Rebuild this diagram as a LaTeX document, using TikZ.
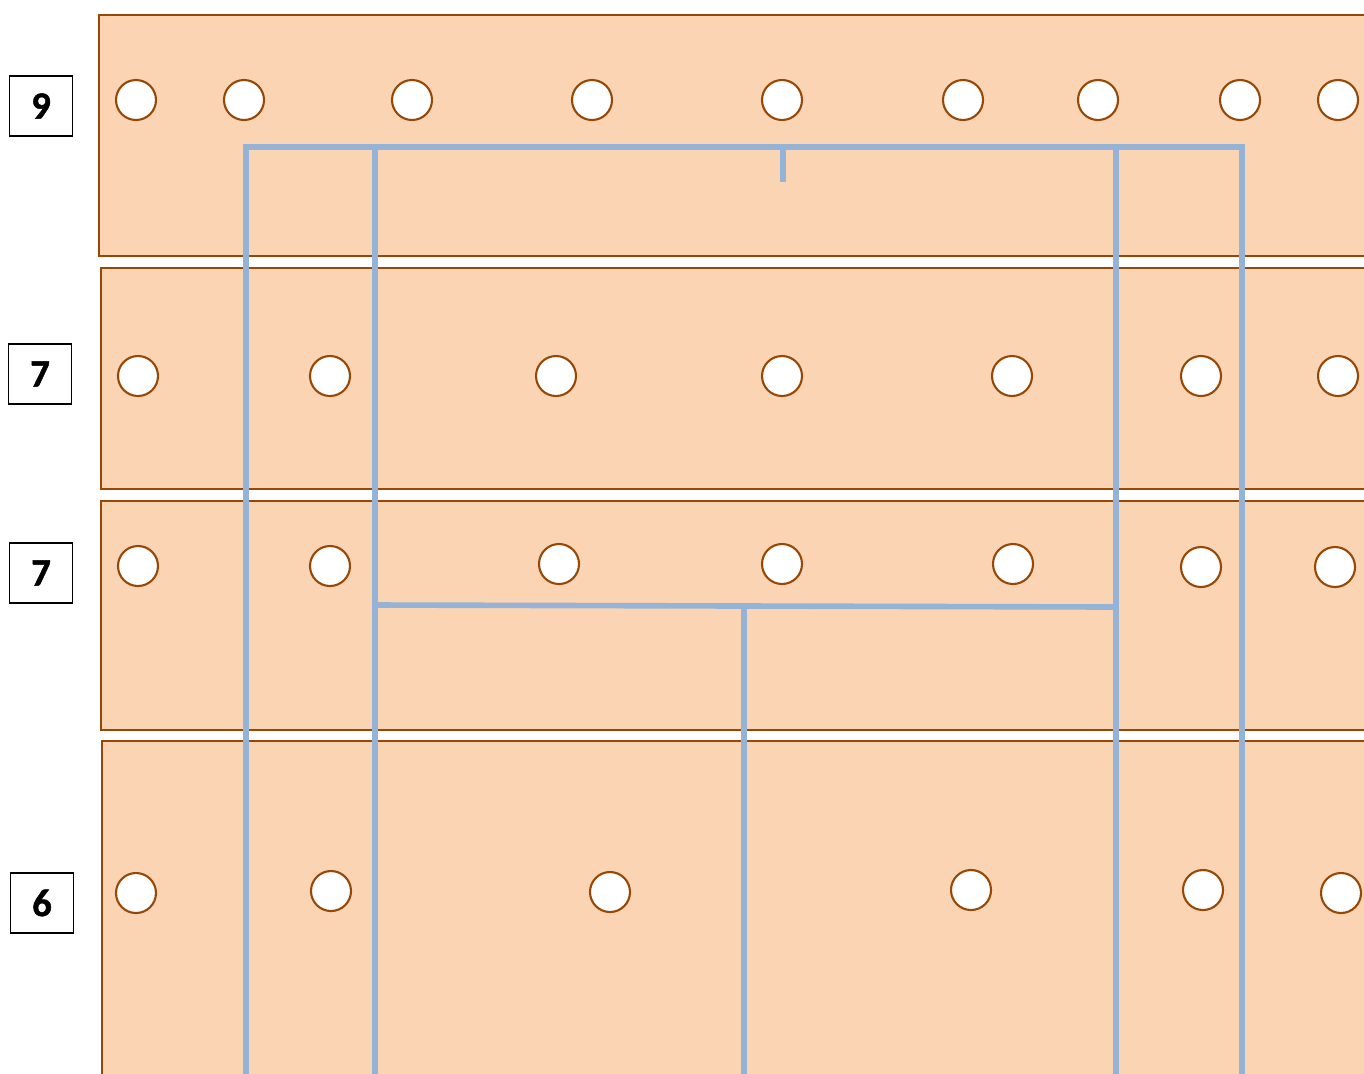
\documentclass[tikz,border=0pt]{standalone}
\usepackage{fontspec}
\newfontfamily\labelfont{Carlito}[UprightFont={* Bold},FakeBold=1.2]
\definecolor{peach}{HTML}{FBD4B4}
\definecolor{rust}{HTML}{984806}
\definecolor{steel}{HTML}{95B3D7}
\tikzset{
  strip/.style={draw=rust,line width=1.2pt,fill=peach},
  hole/.style={draw=rust,line width=1.2pt,fill=white},
  rowlabel/.style={draw=black,line width=1.1pt,minimum width=1.26cm,minimum height=1.2cm,inner sep=0pt,font=\labelfont\fontsize{22}{26}\selectfont},
  frame/.style={draw=steel,line width=3.2pt}
}
\begin{document}
\begin{tikzpicture}[x=0.02cm,y=-0.02cm]
	  \useasboundingbox (0,0) rectangle (1364,1073);
	  % strips
	  \path[strip] (1370,15) -- (99,15) -- (99,256) -- (1370,256);
	  \path[strip] (1370,268) -- (101,268) -- (101,489) -- (1370,489);
	  \path[strip] (1370,501) -- (101,501) -- (101,730) -- (1370,730);
	  \path[strip] (1370,741) -- (102,741) -- (102,1080);
	  \fill[peach] (103,742) rectangle (1370,1080);
	  % row labels
	  \node[rowlabel] (l9) at (41,106) {9};
	  \node[rowlabel] (l7a) at (40,374) {7};
	  \node[rowlabel] (l7b) at (41,573) {7};
	  \node[rowlabel] (l6) at (42,903) {6};
	  % holes
	  \foreach \x in {136,244,412,592,782,963,1098,1240,1338}
	    \draw[hole] (\x,100) circle (20);
	  \foreach \x in {138,330,556,782,1012,1201,1338}
	    \draw[hole] (\x,376) circle (20);
	  \foreach \x/\y in {138/566,330/566,559/564,782/564,1013/564,1201/567,1335/567}
	    \draw[hole] (\x,\y) circle (20);
	  \foreach \x/\y in {136/893,331/891,610/892,971/890,1203/890,1341/893}
	    \draw[hole] (\x,\y) circle (20);
	  % frame
	  \coordinate (tl) at (246,147);
	  \coordinate (tr) at (1242,147);
	  \coordinate (il) at (375,147);
	  \coordinate (ir) at (1116,147);
	  \coordinate (tk) at (783,147);
	  \coordinate (ml) at (375,605);
	  \coordinate (mr) at (1116,607);
	  \coordinate (mm) at (744,606);
	  \draw[frame] (246,1080) -- (tl) -- (tr) -- (1242,1080);
	  \draw[frame] (il) -- (375,1080);
	  \draw[frame] (ir) -- (1116,1080);
	  \draw[frame] (tk) -- (783,182);
	  \draw[frame] (ml) -- (mr);
	  \draw[frame] (mm) -- (744,1080);
	\end{tikzpicture}
\end{document}
